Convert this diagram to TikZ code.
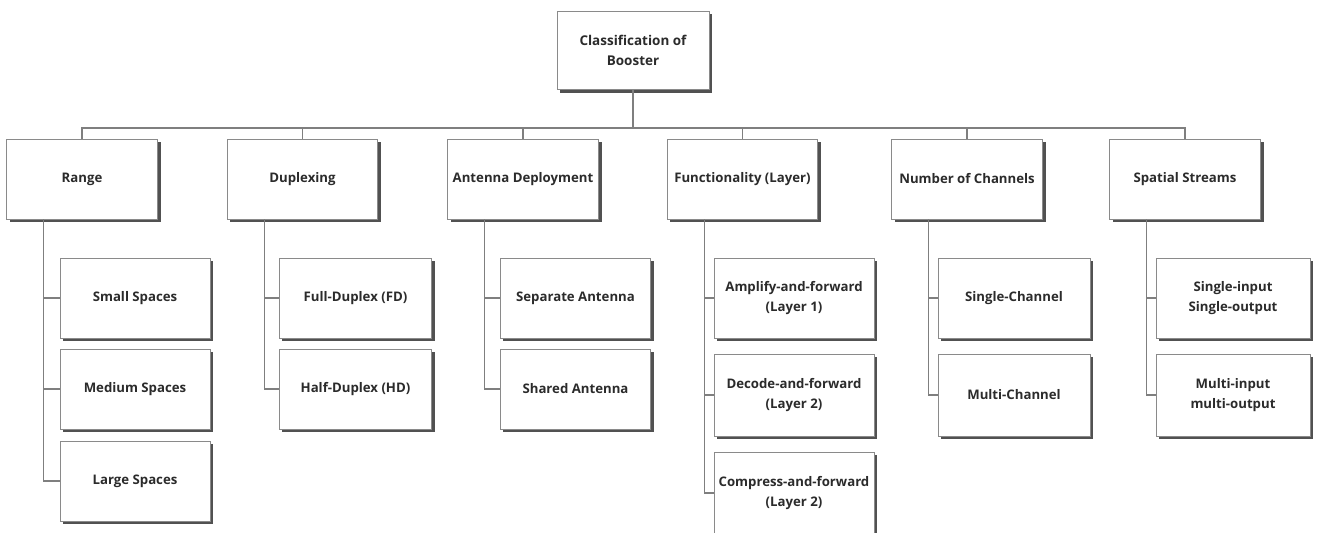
\documentclass[tikz,border=0pt]{standalone}
\usepackage{fontspec}
\setmainfont{Open Sans}
\usetikzlibrary{shadows}
\definecolor{txt}{HTML}{2B2B2B}
\definecolor{ln}{HTML}{7F7F7F}
\definecolor{bd}{HTML}{8A8A8A}
\begin{document}
\begin{tikzpicture}[x=0.75pt,y=-0.75pt,
  box/.style={draw=bd,line width=0.6pt,fill=white,rectangle,align=center,
    font=\fontsize{9.9}{14.5}\selectfont\bfseries,text=txt,inner sep=1pt,
    drop shadow={shadow xshift=2.4pt,shadow yshift=-2.4pt,fill=black!80,opacity=0.85}},
  lone/.style={box,minimum width=113pt,minimum height=60pt},
  conn/.style={draw=ln,line width=0.9pt}]
\useasboundingbox (0,0) rectangle (1317,532);
% root
\node[box,minimum width=114pt,minimum height=59pt,font=\fontsize{10.1}{14.5}\selectfont\bfseries] (root) at (633,50.5) {Classification of\\Booster};
% level 1
\node[lone] (range) at (82,179) {Range};
\node[lone] (duplex) at (302.5,179) {Duplexing};
\node[lone] (ant) at (523,179) {Antenna Deployment};
\node[lone] (func) at (742.5,179) {Functionality (Layer)};
\node[lone] (chan) at (967,179) {Number of Channels};
\node[lone] (spat) at (1185,179) {Spatial Streams};
% bus
\foreach \n in {range,duplex,ant,func,chan,spat}{
  \draw[conn] (root.south) -- (root.south |- 0,128) -| (\n.north);
}
% children
\tikzset{cb/.style={box,minimum height=60pt}}
\node[cb,minimum width=112.5pt] (small) at (135,298) {Small Spaces};
\node[cb,minimum width=112.5pt] (medium) at (135,389) {Medium Spaces};
\node[cb,minimum width=112.5pt] (large) at (135,481) {Large Spaces};
\node[cb,minimum width=114.5pt] (fd) at (355.5,298) {Full-Duplex (FD)};
\node[cb,minimum width=114.5pt] (hd) at (355.5,389) {Half-Duplex (HD)};
\node[cb,minimum width=113pt] (sep) at (575.5,298) {Separate Antenna};
\node[cb,minimum width=113pt] (shr) at (575.5,389) {Shared Antenna};
\node[cb,minimum width=120pt] (amp) at (794,298) {Amplify-and-forward\\(Layer 1)};
\node[cb,minimum width=120pt,minimum height=61.5pt] (dec) at (794,395) {Decode-and-forward\\(Layer 2)};
\node[cb,minimum width=120pt,minimum height=61.5pt] (cmp) at (794,493) {Compress-and-forward\\(Layer 2)};
\node[cb,minimum width=114pt] (sch) at (1014,298) {Single-Channel};
\node[cb,minimum width=114pt,minimum height=61.5pt] (mch) at (1014,395) {Multi-Channel};
\node[cb,minimum width=115.5pt] (siso) at (1233,298) {Single-input\\Single-output};
\node[cb,minimum width=115.5pt,minimum height=61.5pt] (mimo) at (1233,395) {Multi-input\\multi-output};
% child connectors
\foreach \p/\cs in {range/{small,medium,large},duplex/{fd,hd},ant/{sep,shr},func/{amp,dec,cmp},chan/{sch,mch},spat/{siso,mimo}}{
  \foreach \c in \cs {
    \draw[conn] ([xshift=-28.7pt]\p.south) |- (\c.west);
  }
}
\end{tikzpicture}
\end{document}
